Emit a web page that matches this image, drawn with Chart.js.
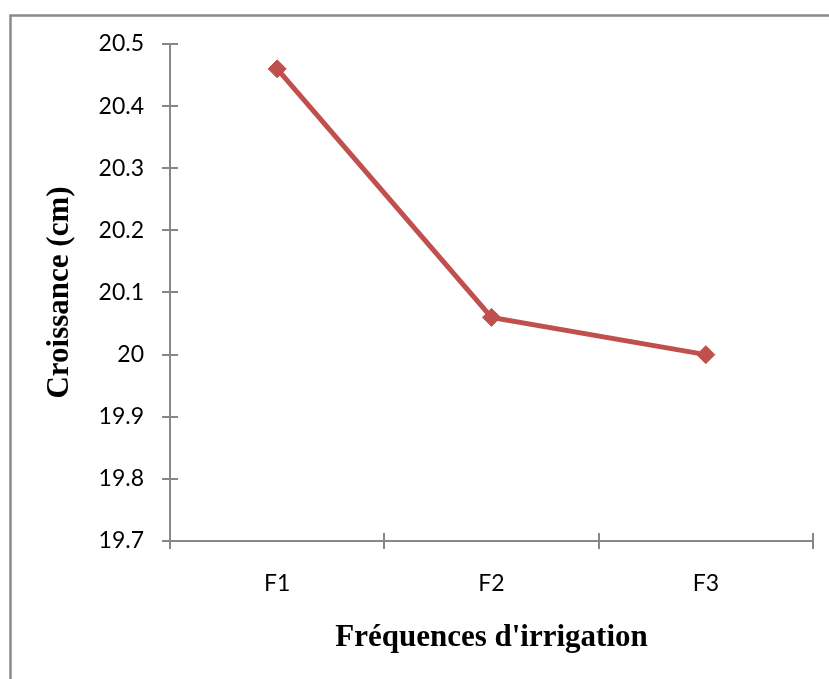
<!DOCTYPE html>
<html>
<head>
<meta charset="utf-8">
<script src="https://cdn.jsdelivr.net/npm/chart.js@4"></script>
<style>
  html, body { margin: 0; padding: 0; background: #ffffff; }
  #wrap { width: 829px; height: 679px; position: relative; }
</style>
</head>
<body>
<div id="wrap"><canvas id="c" width="829" height="679"></canvas></div>
<script>
// Growth (cm) by irrigation frequency
const categories = ['F1', 'F2', 'F3'];
const croissance = [20.46, 20.06, 20.00];
const yTickValues = [19.7, 19.8, 19.9, 20.0, 20.1, 20.2, 20.3, 20.4, 20.5];
const yTickLabels = ['19.7', '19.8', '19.9', '20', '20.1', '20.2', '20.3', '20.4', '20.5'];
const xTitle = "Fréquences d'irrigation";
const yTitle = 'Croissance (cm)';

const AXIS_COLOR = '#878787';
const LINE_COLOR = '#C0504D';

// Outer frame and axes with cross tick marks
const frameAndAxes = {
  id: 'frameAndAxes',
  beforeDraw(chart) {
    const ctx = chart.ctx;
    ctx.save();
    ctx.fillStyle = '#ffffff';
    ctx.fillRect(0, 0, chart.width, chart.height);
    ctx.strokeStyle = '#8a8a8a';
    ctx.lineWidth = 2.5;
    ctx.beginPath();
    ctx.moveTo(10.5, chart.height + 5);
    ctx.lineTo(10.5, 15.5);
    ctx.lineTo(chart.width + 5, 15.5);
    ctx.stroke();
    ctx.restore();
  },
  beforeDatasetsDraw(chart) {
    const ctx = chart.ctx;
    const { left, right, top, bottom } = chart.chartArea;
    const xs = chart.scales.x;
    const ys = chart.scales.y;
    ctx.save();
    ctx.strokeStyle = AXIS_COLOR;
    ctx.lineWidth = 2;
    ctx.beginPath();
    // y axis
    ctx.moveTo(left, top);
    ctx.lineTo(left, bottom);
    ys.ticks.forEach(t => {
      const y = Math.round(ys.getPixelForValue(t.value));
      ctx.moveTo(left - 8, y);
      ctx.lineTo(left + 8, y);
    });
    // x axis
    ctx.moveTo(left, bottom);
    ctx.lineTo(right, bottom);
    const n = categories.length;
    for (let i = 0; i <= n; i++) {
      let x;
      if (i === 0) x = left;
      else if (i === n) x = right;
      else x = (xs.getPixelForValue(i - 1) + xs.getPixelForValue(i)) / 2;
      x = Math.round(x);
      ctx.moveTo(x, bottom - 8);
      ctx.lineTo(x, bottom + 8);
    }
    ctx.stroke();
    ctx.restore();
  }
};

new Chart(document.getElementById('c'), {
  type: 'line',
  data: {
    labels: categories,
    datasets: [{
      data: croissance,
      borderColor: LINE_COLOR,
      backgroundColor: LINE_COLOR,
      borderWidth: 5,
      pointStyle: 'rectRot',
      pointRadius: 9,
      pointHoverRadius: 9,
      pointBorderWidth: 1,
      pointBorderColor: LINE_COLOR,
      pointBackgroundColor: LINE_COLOR,
      tension: 0,
      clip: false
    }]
  },
  options: {
    responsive: false,
    animation: false,
    events: [],
    layout: { padding: { left: 10, right: 16, top: 44, bottom: 0 } },
    plugins: {
      legend: { display: false },
      tooltip: { enabled: false }
    },
    scales: {
      x: {
        type: 'category',
        offset: true,
        grid: { display: false, drawTicks: false, offset: true },
        border: { display: false },
        ticks: {
          color: '#000000',
          font: { family: 'Lato', size: 23 },
          padding: 29,
          maxRotation: 0
        },
        title: {
          display: true,
          text: xTitle,
          color: '#000000',
          font: { family: 'Liberation Serif', size: 31, weight: 'bold' },
          padding: { top: 0, bottom: 22 }
        },
        afterFit(scale) { scale.height = 138; }
      },
      y: {
        min: 19.7,
        max: 20.5,
        grid: { display: false, drawTicks: false },
        border: { display: false },
        afterBuildTicks(scale) {
          scale.ticks = yTickValues.map(v => ({ value: v }));
        },
        ticks: {
          color: '#000000',
          font: { family: 'Lato', size: 23 },
          padding: 26,
          callback(value, index) { return yTickLabels[index]; }
        },
        title: {
          display: true,
          text: yTitle,
          color: '#000000',
          font: { family: 'Liberation Serif', size: 31, weight: 'bold' },
          padding: { top: 31, bottom: 0 }
        },
        afterFit(scale) { scale.width = 160; }
      }
    }
  },
  plugins: [frameAndAxes]
});
</script>
</body>
</html>
